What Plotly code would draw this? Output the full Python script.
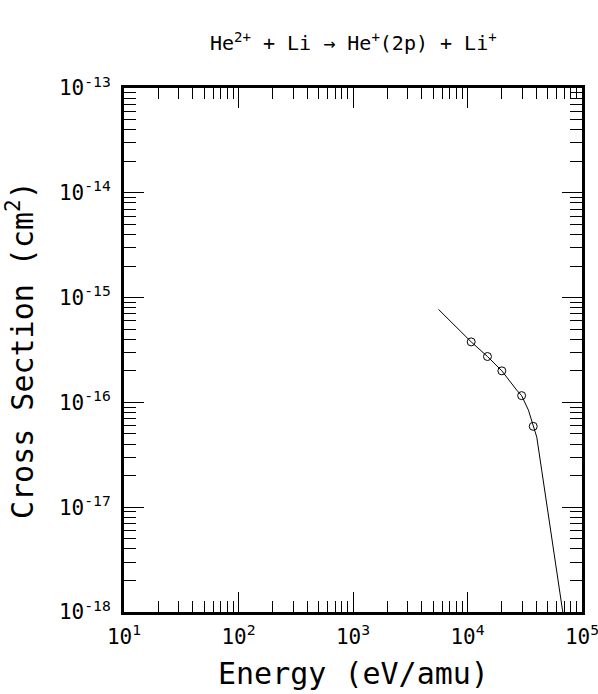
import plotly.graph_objects as go

# Curve
curve_energy = [5580, 10770, 14940, 19950, 26900, 29700, 34060, 37500, 40270, 44540,
                49220, 54420, 60200, 66540, 67950]
curve_sigma = [7.72e-16, 3.78e-16, 2.74e-16, 2.0e-16, 1.31e-16, 1.16e-16, 8.43e-17, 5.91e-17,
               4.66e-17, 2.23e-17, 1.07e-17, 5.1e-18, 2.44e-18, 1.26e-18, 1.0e-18]

# Data points (open circles)
pt_energy = [10770, 14940, 19950, 29700, 37500]
pt_sigma = [3.78e-16, 2.74e-16, 2.0e-16, 1.16e-16, 5.91e-17]

x_tickvals = [1e1, 1e2, 1e3, 1e4, 1e5]
x_ticktext = ["10<sup>1</sup>", "10<sup>2</sup>", "10<sup>3</sup>", "10<sup>4</sup>", "10<sup>5</sup>"]
y_tickvals = [1e-18, 1e-17, 1e-16, 1e-15, 1e-14, 1e-13]
y_ticktext = ["10<sup>-18</sup>", "10<sup>-17</sup>", "10<sup>-16</sup>", "10<sup>-15</sup>",
              "10<sup>-14</sup>", "10<sup>-13</sup>"]

title_text = "He<sup>2+</sup> + Li → He<sup>+</sup>(2p) + Li<sup>+</sup>"
x_title = "Energy (eV/amu)"
y_title = "Cross Section (cm<sup>2</sup>)"

FONT = "DejaVu Sans Mono"

minor_mult = [2, 3, 4, 5, 6, 7, 8, 9]
x_minor = [m * d for d in x_tickvals[:-1] for m in minor_mult]
y_minor = [m * d for d in y_tickvals[:-1] for m in minor_mult]

fig = go.Figure()
fig.add_trace(go.Scatter(x=curve_energy, y=curve_sigma, mode="lines",
                         line=dict(color="black", width=1),
                         showlegend=False, hoverinfo="skip"))
fig.add_trace(go.Scatter(x=pt_energy, y=pt_sigma, mode="markers",
                         marker=dict(symbol="circle-open", size=8, color="black",
                                     line=dict(width=1, color="black")),
                         showlegend=False))

axis_common = dict(
    showline=True, linewidth=3, linecolor="black", mirror="ticks",
    ticks="inside", ticklen=20, tickwidth=1, tickcolor="black",
    showgrid=False, zeroline=False, automargin=False, ticklabeloverflow="allow",
    tickfont=dict(family=FONT, size=21, color="black"),
)

fig.update_xaxes(type="log", range=[0.99999, 5.00001], tickmode="array",
                 tickvals=x_tickvals, ticktext=x_ticktext, ticklabelstandoff=4,
                 minor=dict(ticks="inside", ticklen=11, tickwidth=1, tickcolor="black",
                            showgrid=False, tickmode="array", tickvals=x_minor),
                 **axis_common)
fig.update_yaxes(type="log", range=[-18.00001, -12.99999], tickmode="array",
                 tickvals=y_tickvals, ticktext=y_ticktext, ticklabelstandoff=6,
                 minor=dict(ticks="inside", ticklen=12, tickwidth=1, tickcolor="black",
                            showgrid=False, tickmode="array", tickvals=y_minor),
                 **axis_common)

fig.update_layout(
    template="none",
    width=598, height=694,
    margin=dict(l=124, r=16, t=88, b=82, autoexpand=False),
    paper_bgcolor="white", plot_bgcolor="white",
    font=dict(family=FONT, color="black"),
    annotations=[
        dict(text=title_text, x=0.5, y=1, xref="paper", yref="paper", showarrow=False,
             font=dict(family=FONT, size=20, color="black"), xanchor="center", yanchor="middle",
             yshift=46),
        dict(text=x_title, x=0.5, y=0, xref="paper", yref="paper", showarrow=False,
             font=dict(family=FONT, size=30, color="black"), xanchor="center", yanchor="middle",
             yshift=-61),
        dict(text=y_title, x=0, y=0.5, xref="paper", yref="paper", showarrow=False, textangle=-90,
             font=dict(family=FONT, size=30, color="black"), xanchor="center", yanchor="middle",
             xshift=-104),
    ],
)

fig.write_html("out.html", config={"displayModeBar": False},
               post_script="document.body.style.margin='0px';document.body.style.padding='0px';")
